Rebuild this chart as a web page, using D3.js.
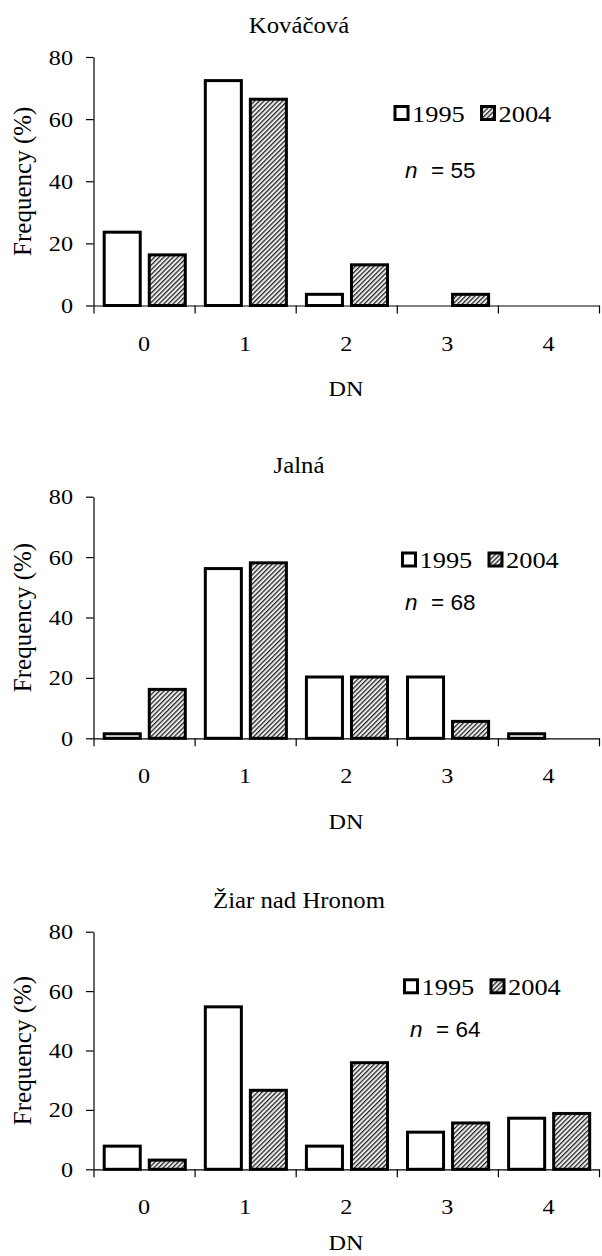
<!DOCTYPE html>
<html>
<head>
<meta charset="utf-8">
<script src="https://cdn.jsdelivr.net/npm/d3@7"></script>
<style>
  body { margin: 0; background: #fff; }
  text { font-family: "Liberation Serif", "Times New Roman", serif; fill: #000; }
</style>
</head>
<body>
<div id="chart"></div>
<script>
// data (frequency in %)
var categories = ["0", "1", "2", "3", "4"];
var years = ["1995", "2004"];
var sites = ["Kováčová", "Jalná", "Žiar nad Hronom"];
var sampleSizes = [55, 68, 64];
var yTicks = [0, 20, 40, 60, 80];

var kovacova1995 = [23.6, 72.4, 3.6, 0, 0];
var kovacova2004 = [16.3, 66.4, 13.1, 3.6, 0];
var jalna1995 = [1.5, 56.2, 20.3, 20.3, 1.5];
var jalna2004 = [16.2, 58.1, 20.3, 5.6, 0];
var ziar1995 = [7.8, 54.7, 7.8, 12.5, 17.2];
var ziar2004 = [3.1, 26.6, 35.9, 15.6, 18.8];

var siteValues = [
  [kovacova1995, kovacova2004],
  [jalna1995, jalna2004],
  [ziar1995, ziar2004]
];

// panel layout
var panels = [
  { top: 57, bottom: 305.5, title: 33.3, dn: 90.5, legX: 395, legY: 106.5, nX: 405, nY: 178 },
  { top: 496.7, bottom: 738.3, title: 473.3, dn: 90.7, legX: 402.5, legY: 553, nX: 405, nY: 610 },
  { top: 931.7, bottom: 1169.3, title: 908.3, dn: 81, legX: 404.5, legY: 979.8, nX: 410, nY: 1036.5 }
];
var left = 93.5, right = 599;
var stretch = 1.1; // the original figure is a little wider than tall

var svg = d3.select("#chart").append("svg")
  .attr("width", 602)
  .attr("height", 1256);

// hatch for the 2004 bars
var pat = svg.append("defs").append("pattern")
  .attr("id", "hatch")
  .attr("patternUnits", "userSpaceOnUse")
  .attr("width", 3.3)
  .attr("height", 3.3)
  .attr("patternTransform", "rotate(45)");
pat.append("rect").attr("width", 3.3).attr("height", 3.3).attr("fill", "#eeeeee");
pat.append("rect").attr("width", 1.3).attr("height", 3.3).attr("fill", "#2a2a2a");

var fills = { "1995": "#fff", "2004": "url(#hatch)" };

var x0 = d3.scaleBand().domain(categories).range([left, right]);
var bw = x0.bandwidth();
var x1 = d3.scaleBand().domain(years)
  .range([bw * 0.106, bw * 0.908])
  .paddingInner(0.2);
var xEdges = d3.scaleLinear().domain([0, categories.length]).range([left, right]);

var serif = "'Liberation Serif', 'Times New Roman', serif";

panels.forEach(function(p, k) {
  var g = svg.append("g");
  var y = d3.scaleLinear().domain([0, 80]).range([p.bottom, p.top]);

  // title
  g.append("text")
    .attr("class", "st")
    .attr("x", 299)
    .attr("y", p.title)
    .attr("text-anchor", "middle")
    .style("font-size", "22.5px")
    .text(sites[k]);

  // bars
  var rows = [];
  years.forEach(function(yr, j) {
    siteValues[k][j].forEach(function(v, i) {
      rows.push({ year: yr, cat: categories[i], value: v });
    });
  });

  g.selectAll("rect.bar")
    .data(rows.filter(function(d) { return d.value > 0; }))
    .enter().append("rect")
    .attr("class", "bar")
    .attr("x", function(d) { return x0(d.cat) + x1(d.year); })
    .attr("y", function(d) { return y(d.value); })
    .attr("width", x1.bandwidth())
    .attr("height", function(d) { return y(0) - y(d.value); })
    .attr("fill", function(d) { return fills[d.year]; })
    .attr("stroke", "#000")
    .attr("stroke-width", 3);

  // y axis
  var ya = g.append("g")
    .attr("transform", "translate(" + left + ",0)")
    .call(d3.axisLeft(y).tickValues(yTicks).tickSize(7.5).tickSizeOuter(0).tickPadding(13));
  ya.selectAll("text").attr("class", "st").style("font-size", "22px").style("font-family", serif);

  // x axis: ticks between the categories, labels in the middle
  g.append("g")
    .attr("transform", "translate(0," + p.bottom + ")")
    .call(d3.axisBottom(xEdges).tickValues(d3.range(categories.length + 1)).tickSize(8).tickSizeOuter(0).tickFormat(""));
  var xl = g.append("g")
    .attr("transform", "translate(0," + p.bottom + ")")
    .call(d3.axisBottom(x0).tickSize(0).tickPadding(29.5));
  xl.select(".domain").remove();
  xl.selectAll("text").attr("class", "st").style("font-size", "22px").style("font-family", serif);

  g.selectAll(".domain, .tick line").attr("stroke", "#000").attr("stroke-width", 1.2);

  // axis titles
  g.append("text")
    .attr("class", "st")
    .attr("x", 346)
    .attr("y", p.bottom + p.dn)
    .attr("text-anchor", "middle")
    .style("font-size", "22px")
    .text("DN");

  g.append("text")
    .attr("transform", "translate(31," + ((p.top + p.bottom) / 2) + ") rotate(-90)")
    .attr("text-anchor", "middle")
    .style("font-size", "25px")
    .text("Frequency (%)");

  // legend
  var leg = g.append("g").attr("transform", "translate(" + p.legX + "," + p.legY + ")");
  years.forEach(function(yr, j) {
    var lx = j * 86.5;
    leg.append("rect")
      .attr("x", lx).attr("y", 0)
      .attr("width", 13).attr("height", 13)
      .attr("fill", fills[yr])
      .attr("stroke", "#000")
      .attr("stroke-width", 3);
    leg.append("text")
      .attr("class", "st")
      .attr("x", lx + 17)
      .attr("y", 15.2)
      .style("font-size", "24px")
      .text(yr);
  });

  // sample size
  var nt = g.append("text")
    .attr("x", p.nX)
    .attr("y", p.nY)
    .style("font-family", "'Liberation Sans', Arial, sans-serif")
    .style("font-size", "22.5px");
  nt.append("tspan").style("font-style", "italic").text("n");
  nt.append("tspan").attr("dx", 13.5).text("= " + sampleSizes[k]);
});

// widen the horizontal texts a little, like the original
svg.selectAll("text.st").each(function() {
  var w = this.getComputedTextLength();
  d3.select(this).attr("textLength", w * stretch).attr("lengthAdjust", "spacingAndGlyphs");
});
</script>
</body>
</html>
